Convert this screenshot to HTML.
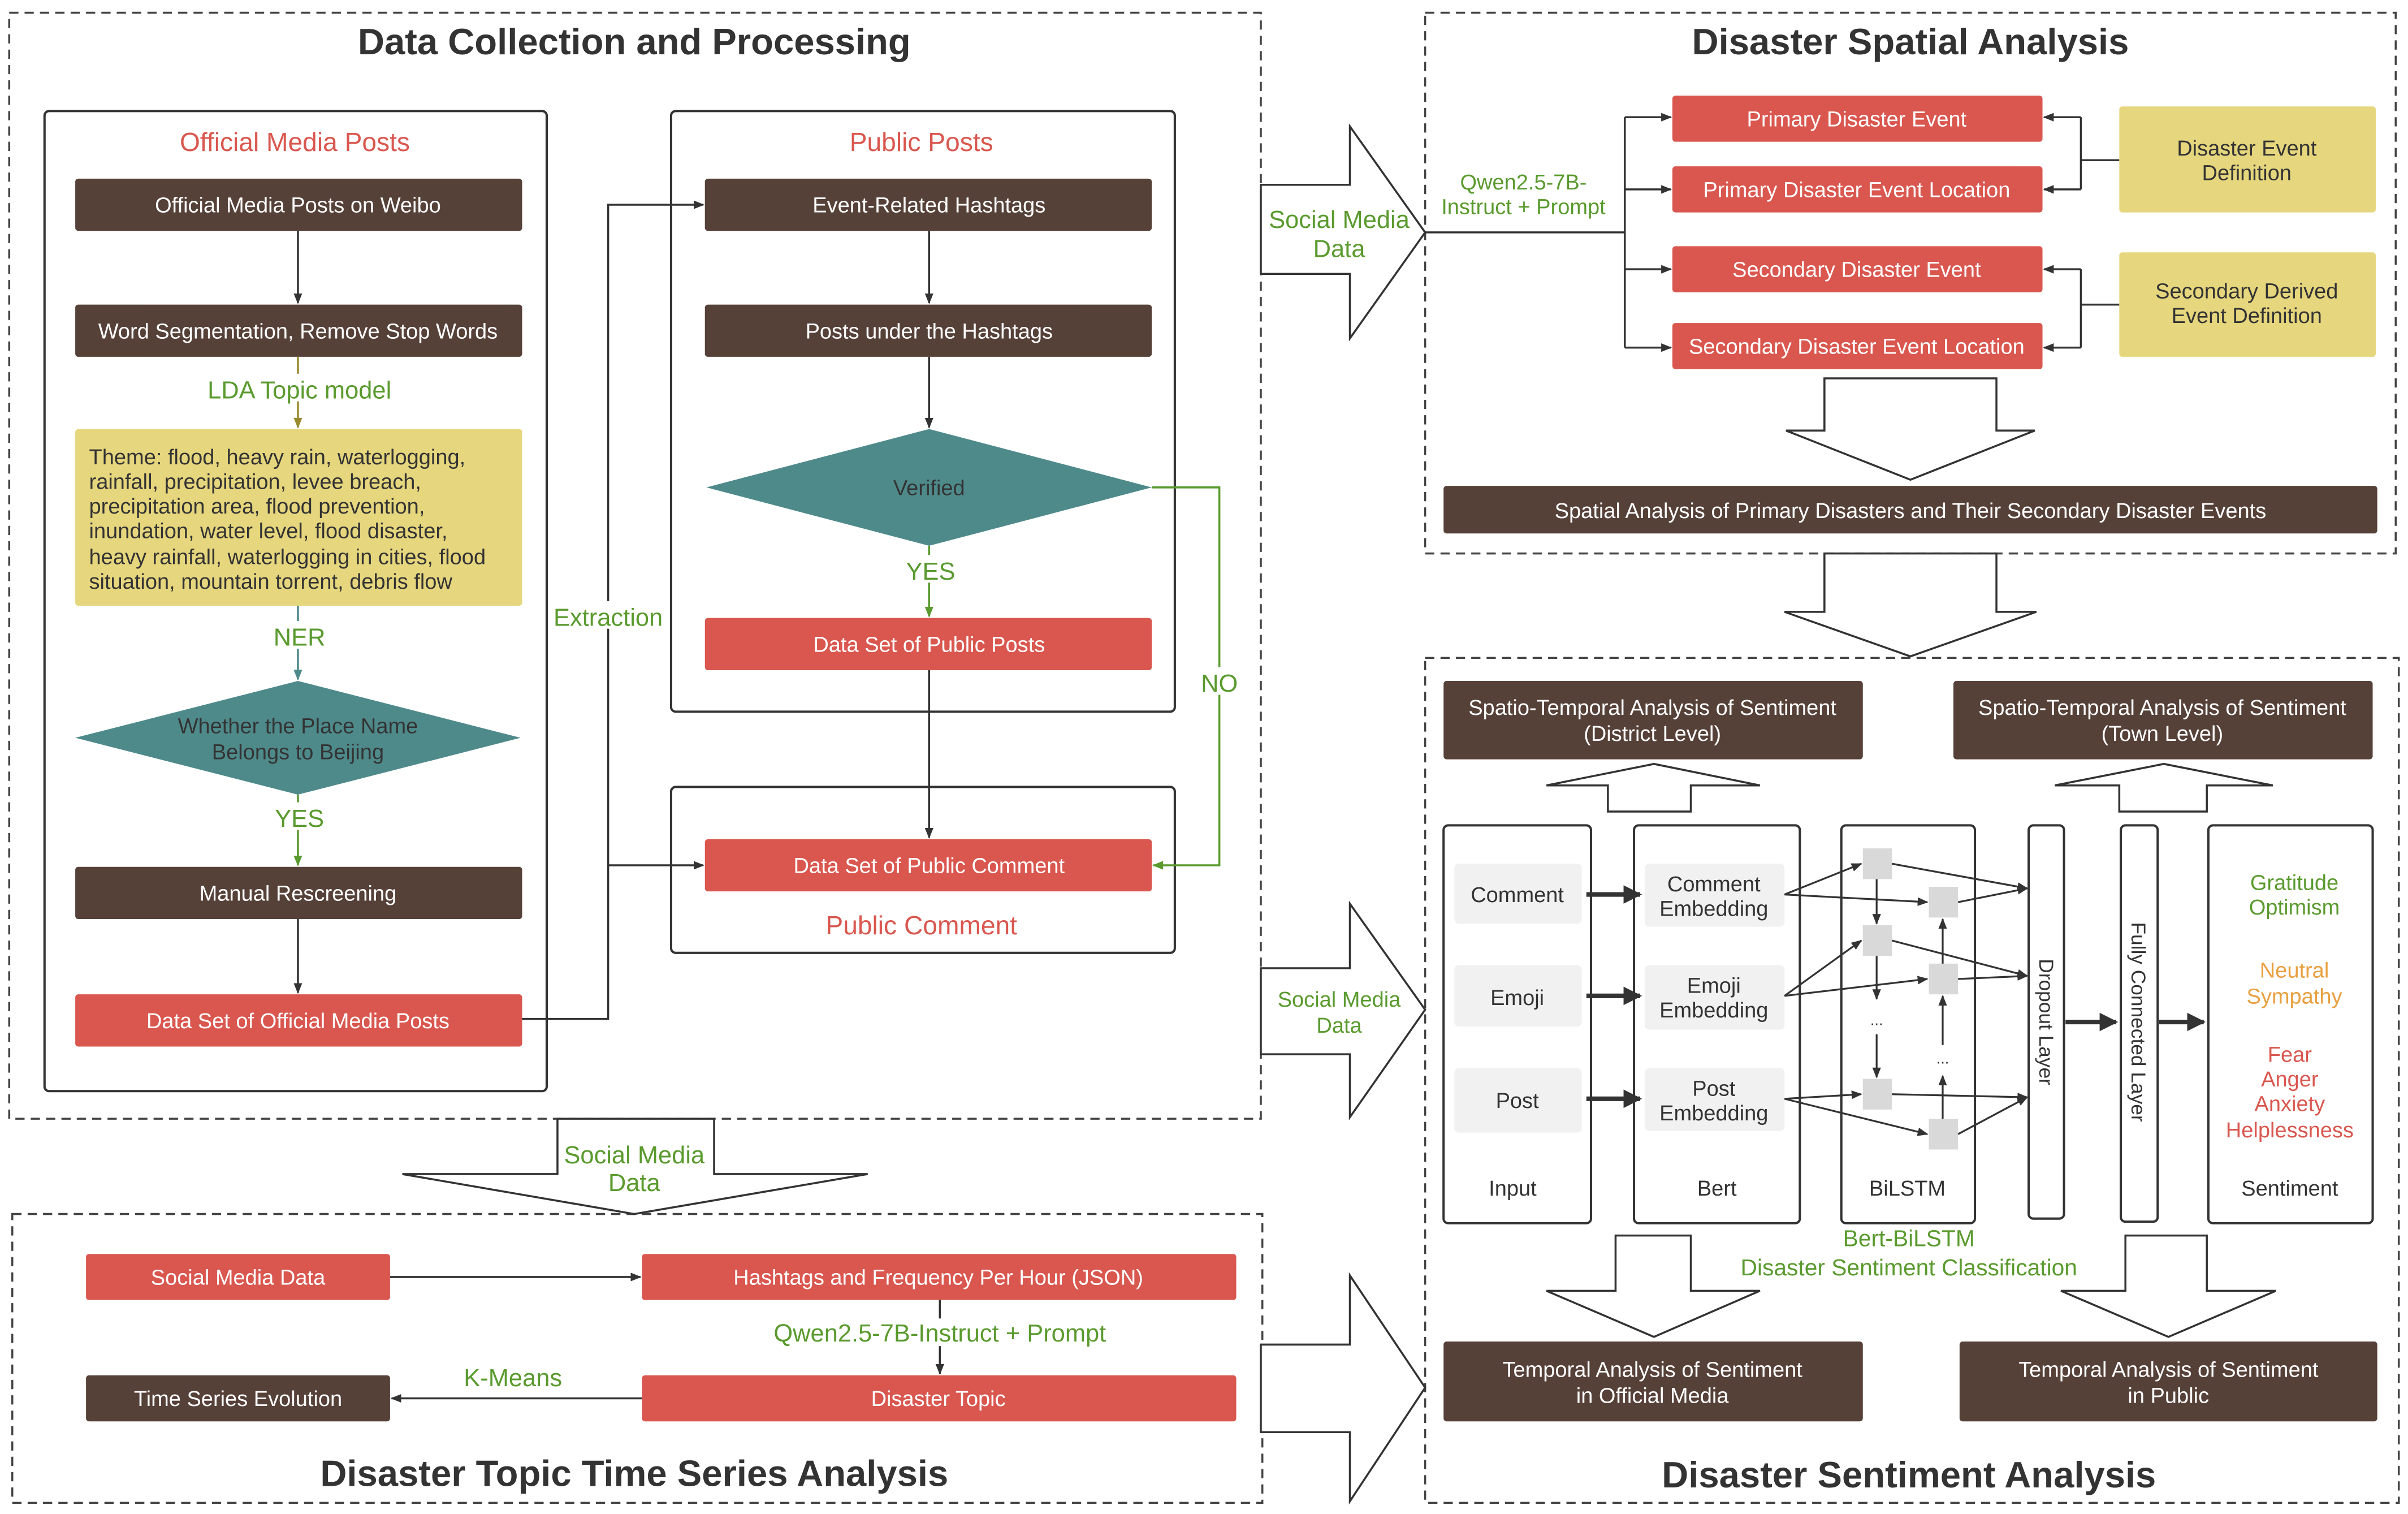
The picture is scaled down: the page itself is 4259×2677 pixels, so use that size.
<!DOCTYPE html>
<html><head><meta charset="utf-8"><style>
html,body{margin:0;padding:0;background:#fff;}
svg{display:block;}
text{font-family:"Liberation Sans",sans-serif;}
</style></head><body>
<svg width="4259" height="2677" viewBox="0 0 1568 985" xmlns="http://www.w3.org/2000/svg">
<defs>
<marker id="a" viewBox="0 0 10 10" refX="9" refY="5" markerWidth="7" markerHeight="7" orient="auto-start-reverse" markerUnits="userSpaceOnUse"><path d="M0,1 L10,5 L0,9 z" fill="#333"/></marker>
<marker id="ag" viewBox="0 0 10 10" refX="9" refY="5" markerWidth="7" markerHeight="7" orient="auto" markerUnits="userSpaceOnUse"><path d="M0,1 L10,5 L0,9 z" fill="#5a9a2e"/></marker>
<marker id="ao" viewBox="0 0 10 10" refX="9" refY="5" markerWidth="7" markerHeight="7" orient="auto" markerUnits="userSpaceOnUse"><path d="M0,1 L10,5 L0,9 z" fill="#9a8a30"/></marker>
<marker id="at" viewBox="0 0 10 10" refX="9" refY="5" markerWidth="7" markerHeight="7" orient="auto" markerUnits="userSpaceOnUse"><path d="M0,1 L10,5 L0,9 z" fill="#4f8a8b"/></marker>
<marker id="ab" viewBox="0 0 10 10" refX="9" refY="5" markerWidth="4" markerHeight="4" orient="auto" markerUnits="strokeWidth"><path d="M0,0 L10,5 L0,10 z" fill="#333"/></marker>
</defs>
<g fill="none" stroke="#444" stroke-width="1.3" stroke-dasharray="6,4">
<rect x="6" y="8" width="815" height="720"/>
<rect x="928" y="8" width="632" height="352"/>
<rect x="928" y="428" width="634" height="550"/>
<rect x="8" y="790" width="814" height="188"/>
</g>
<g font-size="24" font-weight="bold" fill="#333" text-anchor="middle">
<text x="413" y="35">Data Collection and Processing</text>
<text x="1244" y="35">Disaster Spatial Analysis</text>
<text x="413" y="967">Disaster Topic Time Series Analysis</text>
<text x="1243" y="968">Disaster Sentiment Analysis</text>
</g>
<!-- panels -->
<g fill="none" stroke="#333" stroke-width="1.5">
<rect x="29" y="72" width="327" height="638" rx="3"/>
<rect x="437" y="72" width="328" height="391" rx="3"/>
<rect x="437" y="512" width="328" height="108" rx="3"/>
</g>
<g font-size="17" fill="#d9574f" text-anchor="middle">
<text x="192" y="98">Official Media Posts</text>
<text x="600" y="98">Public Posts</text>
<text x="600" y="608">Public Comment</text>
</g>
<!-- boxes -->
<g>
<rect x="49" y="116" width="291" height="34" rx="2" fill="#564139"/>
<rect x="49" y="198" width="291" height="34" rx="2" fill="#564139"/>
<rect x="49" y="279" width="291" height="115" rx="2" fill="#e6d67d"/>
<polygon points="49,480 194,443 339,480 194,517" fill="#4f8a8b"/>
<rect x="49" y="564" width="291" height="34" rx="2" fill="#564139"/>
<rect x="49" y="647" width="291" height="34" rx="2" fill="#d9574f"/>
<rect x="459" y="116" width="291" height="34" rx="2" fill="#564139"/>
<rect x="459" y="198" width="291" height="34" rx="2" fill="#564139"/>
<polygon points="460,317 605,279 750,317 605,355" fill="#4f8a8b"/>
<rect x="459" y="402" width="291" height="34" rx="2" fill="#d9574f"/>
<rect x="459" y="546" width="291" height="34" rx="2" fill="#d9574f"/>
</g>
<g font-size="14" fill="#fff" text-anchor="middle">
<text x="194" y="138">Official Media Posts on Weibo</text>
<text x="194" y="220">Word Segmentation, Remove Stop Words</text>
<text x="194" y="586">Manual Rescreening</text>
<text x="194" y="669">Data Set of Official Media Posts</text>
<text x="605" y="138">Event-Related Hashtags</text>
<text x="605" y="220">Posts under the Hashtags</text>
<text x="605" y="424">Data Set of Public Posts</text>
<text x="605" y="568">Data Set of Public Comment</text>
</g>
<g font-size="14" fill="#333">
<text x="58" y="302">Theme: flood, heavy rain, waterlogging,</text>
<text x="58" y="318">rainfall, precipitation, levee breach,</text>
<text x="58" y="334">precipitation area, flood prevention,</text>
<text x="58" y="350">inundation, water level, flood disaster,</text>
<text x="58" y="367">heavy rainfall, waterlogging in cities, flood</text>
<text x="58" y="383">situation, mountain torrent, debris flow</text>
<text x="194" y="477" text-anchor="middle">Whether the Place Name</text>
<text x="194" y="494" text-anchor="middle">Belongs to Beijing</text>
<text x="605" y="322" text-anchor="middle">Verified</text>
</g>
<!-- connectors left -->
<g stroke="#333" stroke-width="1.3" fill="none">
<line x1="194" y1="150" x2="194" y2="197" marker-end="url(#a)"/>
<line x1="194" y1="598" x2="194" y2="646" marker-end="url(#a)"/>
<line x1="605" y1="150" x2="605" y2="197" marker-end="url(#a)"/>
<line x1="605" y1="232" x2="605" y2="278" marker-end="url(#a)"/>
<line x1="605" y1="436" x2="605" y2="545" marker-end="url(#a)"/>
<polyline points="340,663 396,663 396,133 458,133" marker-end="url(#a)"/>
<polyline points="396,563 458,563" marker-end="url(#a)"/>
</g>
<line x1="194" y1="232" x2="194" y2="278" stroke="#9a8a30" stroke-width="1.3" marker-end="url(#ao)"/>
<line x1="194" y1="394" x2="194" y2="442" stroke="#4f8a8b" stroke-width="1.3" marker-end="url(#at)"/>
<line x1="194" y1="517" x2="194" y2="563" stroke="#5a9a2e" stroke-width="1.3" marker-end="url(#ag)"/>
<line x1="605" y1="355" x2="605" y2="401" stroke="#5a9a2e" stroke-width="1.3" marker-end="url(#ag)"/>
<polyline points="750,317 794,317 794,563 751,563" fill="none" stroke="#5a9a2e" stroke-width="1.3" marker-end="url(#ag)"/>
<g font-size="16" fill="#5a9a2e" text-anchor="middle">
<rect x="130" y="243" width="130" height="18" fill="#fff"/>
<text x="195" y="259">LDA Topic model</text>
<rect x="178" y="404" width="34" height="18" fill="#fff"/>
<text x="195" y="420">NER</text>
<rect x="178" y="522" width="34" height="18" fill="#fff"/>
<text x="195" y="538">YES</text>
<rect x="589" y="361" width="34" height="18" fill="#fff"/>
<text x="606" y="377">YES</text>
<rect x="358" y="391" width="76" height="18" fill="#fff"/>
<text x="396" y="407">Extraction</text>
<rect x="780" y="434" width="28" height="18" fill="#fff"/>
<text x="794" y="450">NO</text>
</g>
<!-- big hollow arrows -->
<g fill="#fff" stroke="#333" stroke-width="1.3">
<polygon points="821,120 879,120 879,82 928,151 879,220 879,178 821,178"/>
<polygon points="821,630 879,630 879,588 928,657 879,727 879,686 821,686"/>
<polygon points="821,875 879,875 879,830 928,903 879,977 879,932 821,932"/>
<polygon points="363,728 465,728 465,764 565,764 413,790 262,764 363,764"/>
<polygon points="1188,360 1300,360 1300,398 1326,398 1244,427 1162,398 1188,398"/>
<polygon points="1188,246 1300,246 1300,280 1325,280 1244,312 1163,280 1188,280"/>
<polygon points="1047,528 1101,528 1101,511 1146,511 1077,497 1007,511 1047,511"/>
<polygon points="1380,528 1437,528 1437,511 1480,511 1409,497 1338,511 1380,511"/>
<polygon points="1052,804 1101,804 1101,840 1146,840 1077,870 1007,840 1052,840"/>
<polygon points="1384,804 1437,804 1437,840 1482,840 1412,870 1342,840 1384,840"/>
</g>
<g fill="#5a9a2e" text-anchor="middle">
<text x="872" y="148" font-size="16">Social Media</text>
<text x="872" y="167" font-size="16">Data</text>
<text x="872" y="655" font-size="14">Social Media</text>
<text x="872" y="672" font-size="14">Data</text>
<text x="413" y="757" font-size="16">Social Media</text>
<text x="413" y="775" font-size="16">Data</text>
<text x="992" y="123" font-size="14">Qwen2.5-7B-</text>
<text x="992" y="139" font-size="14">Instruct + Prompt</text>
</g>
<!-- DSA -->
<g stroke="#333" stroke-width="1.3" fill="none">
<line x1="928" y1="151" x2="1058" y2="151"/>
<line x1="1058" y1="76" x2="1058" y2="226"/>
<line x1="1058" y1="76" x2="1088" y2="76" marker-end="url(#a)"/>
<line x1="1058" y1="123" x2="1088" y2="123" marker-end="url(#a)"/>
<line x1="1058" y1="175" x2="1088" y2="175" marker-end="url(#a)"/>
<line x1="1058" y1="226" x2="1088" y2="226" marker-end="url(#a)"/>
<line x1="1380" y1="104" x2="1355" y2="104"/>
<line x1="1355" y1="76" x2="1355" y2="123"/>
<line x1="1355" y1="76" x2="1331" y2="76" marker-end="url(#a)"/>
<line x1="1355" y1="123" x2="1331" y2="123" marker-end="url(#a)"/>
<line x1="1380" y1="198" x2="1355" y2="198"/>
<line x1="1355" y1="175" x2="1355" y2="226"/>
<line x1="1355" y1="175" x2="1331" y2="175" marker-end="url(#a)"/>
<line x1="1355" y1="226" x2="1331" y2="226" marker-end="url(#a)"/>
</g>
<g fill="#d9574f">
<rect x="1089" y="62" width="241" height="30" rx="2"/>
<rect x="1089" y="108" width="241" height="30" rx="2"/>
<rect x="1089" y="160" width="241" height="30" rx="2"/>
<rect x="1089" y="210" width="241" height="30" rx="2"/>
</g>
<rect x="1380" y="69" width="167" height="69" rx="2" fill="#e6d67d"/>
<rect x="1380" y="164" width="167" height="68" rx="2" fill="#e6d67d"/>
<rect x="940" y="316" width="608" height="31" rx="2" fill="#564139"/>
<g font-size="14" fill="#fff" text-anchor="middle">
<text x="1209" y="82">Primary Disaster Event</text>
<text x="1209" y="128">Primary Disaster Event Location</text>
<text x="1209" y="180">Secondary Disaster Event</text>
<text x="1209" y="230">Secondary Disaster Event Location</text>
<text x="1244" y="337">Spatial Analysis of Primary Disasters and Their Secondary Disaster Events</text>
</g>
<g font-size="14" fill="#333" text-anchor="middle">
<text x="1463" y="101">Disaster Event</text>
<text x="1463" y="117">Definition</text>
<text x="1463" y="194">Secondary Derived</text>
<text x="1463" y="210">Event Definition</text>
</g>
<!-- Sentiment -->
<g fill="#564139">
<rect x="940" y="443" width="273" height="51" rx="2"/>
<rect x="1272" y="443" width="273" height="51" rx="2"/>
<rect x="940" y="873" width="273" height="52" rx="2"/>
<rect x="1276" y="873" width="272" height="52" rx="2"/>
</g>
<g font-size="14" fill="#fff" text-anchor="middle">
<text x="1076" y="465">Spatio-Temporal Analysis of Sentiment</text>
<text x="1076" y="482">(District Level)</text>
<text x="1408" y="465">Spatio-Temporal Analysis of Sentiment</text>
<text x="1408" y="482">(Town Level)</text>
<text x="1076" y="896">Temporal Analysis of Sentiment</text>
<text x="1076" y="913">in Official Media</text>
<text x="1412" y="896">Temporal Analysis of Sentiment</text>
<text x="1412" y="913">in Public</text>
</g>
<g fill="none" stroke="#333" stroke-width="1.5">
<rect x="940" y="537" width="96" height="259" rx="3"/>
<rect x="1064" y="537" width="108" height="259" rx="3"/>
<rect x="1199" y="537" width="87" height="259" rx="3"/>
<rect x="1321" y="537" width="23" height="256" rx="3"/>
<rect x="1381" y="537" width="24" height="258" rx="3"/>
<rect x="1438" y="537" width="107" height="259" rx="3"/>
</g>
<g fill="#f1f1f1">
<rect x="947" y="562" width="83" height="39" rx="3"/>
<rect x="947" y="628" width="83" height="40" rx="3"/>
<rect x="947" y="695" width="83" height="42" rx="3"/>
<rect x="1071" y="562" width="91" height="41" rx="3"/>
<rect x="1071" y="628" width="91" height="42" rx="3"/>
<rect x="1071" y="695" width="91" height="41" rx="3"/>
</g>
<g fill="#d9d9d9">
<rect x="1213" y="552" width="19" height="20"/>
<rect x="1256" y="577" width="19" height="20"/>
<rect x="1213" y="602" width="19" height="20"/>
<rect x="1256" y="627" width="19" height="20"/>
<rect x="1213" y="702" width="19" height="20"/>
<rect x="1256" y="728" width="19" height="20"/>
</g>
<g font-size="14" fill="#333" text-anchor="middle">
<text x="988" y="587">Comment</text>
<text x="988" y="654">Emoji</text>
<text x="988" y="721">Post</text>
<text x="1116" y="580">Comment</text>
<text x="1116" y="596">Embedding</text>
<text x="1116" y="646">Emoji</text>
<text x="1116" y="662">Embedding</text>
<text x="1116" y="713">Post</text>
<text x="1116" y="729">Embedding</text>
<text x="985" y="778">Input</text>
<text x="1118" y="778">Bert</text>
<text x="1242" y="778">BiLSTM</text>
<text x="1491" y="778">Sentiment</text>
<text x="1222" y="667" font-size="10">...</text>
<text x="1265" y="692" font-size="10">...</text>
<text transform="translate(1328,665) rotate(90)" font-size="13">Dropout Layer</text>
<text transform="translate(1388,665) rotate(90)" font-size="13">Fully Connected Layer</text>
</g>
<g stroke="#333" stroke-width="3" fill="none">
<line x1="1033" y1="582" x2="1068" y2="582" marker-end="url(#ab)"/>
<line x1="1033" y1="648" x2="1068" y2="648" marker-end="url(#ab)"/>
<line x1="1033" y1="715" x2="1068" y2="715" marker-end="url(#ab)"/>
<line x1="1345" y1="665" x2="1378" y2="665" marker-end="url(#ab)"/>
<line x1="1406" y1="665" x2="1435" y2="665" marker-end="url(#ab)"/>
</g>
<g stroke="#333" stroke-width="1.2" fill="none">
<line x1="1162" y1="582" x2="1212" y2="562" marker-end="url(#a)"/>
<line x1="1162" y1="582" x2="1255" y2="587" marker-end="url(#a)"/>
<line x1="1162" y1="648" x2="1212" y2="612" marker-end="url(#a)"/>
<line x1="1162" y1="648" x2="1255" y2="637" marker-end="url(#a)"/>
<line x1="1162" y1="715" x2="1212" y2="712" marker-end="url(#a)"/>
<line x1="1162" y1="715" x2="1255" y2="738" marker-end="url(#a)"/>
<line x1="1232" y1="562" x2="1320" y2="578" marker-end="url(#a)"/>
<line x1="1275" y1="587" x2="1320" y2="578" marker-end="url(#a)"/>
<line x1="1232" y1="612" x2="1320" y2="635" marker-end="url(#a)"/>
<line x1="1275" y1="637" x2="1320" y2="635" marker-end="url(#a)"/>
<line x1="1232" y1="712" x2="1320" y2="714" marker-end="url(#a)"/>
<line x1="1275" y1="738" x2="1320" y2="714" marker-end="url(#a)"/>
<line x1="1222" y1="572" x2="1222" y2="601" marker-end="url(#a)"/>
<line x1="1222" y1="622" x2="1222" y2="650" marker-end="url(#a)"/>
<line x1="1222" y1="673" x2="1222" y2="701" marker-end="url(#a)"/>
<line x1="1265" y1="728" x2="1265" y2="700" marker-end="url(#a)"/>
<line x1="1265" y1="680" x2="1265" y2="648" marker-end="url(#a)"/>
<line x1="1265" y1="627" x2="1265" y2="598" marker-end="url(#a)"/>
</g>
<g font-size="14" text-anchor="middle">
<text x="1494" y="579" fill="#5a9a2e">Gratitude</text>
<text x="1494" y="595" fill="#5a9a2e">Optimism</text>
<text x="1494" y="636" fill="#e8a040">Neutral</text>
<text x="1494" y="653" fill="#e8a040">Sympathy</text>
<text x="1491" y="691" fill="#d9574f">Fear</text>
<text x="1491" y="707" fill="#d9574f">Anger</text>
<text x="1491" y="723" fill="#d9574f">Anxiety</text>
<text x="1491" y="740" fill="#d9574f">Helplessness</text>
</g>
<g font-size="15" fill="#5a9a2e" text-anchor="middle">
<text x="1243" y="811">Bert-BiLSTM</text>
<text x="1243" y="830">Disaster Sentiment Classification</text>
</g>
<!-- DTS -->
<g fill="#d9574f">
<rect x="56" y="816" width="198" height="30" rx="2"/>
<rect x="418" y="816" width="387" height="30" rx="2"/>
<rect x="418" y="895" width="387" height="30" rx="2"/>
</g>
<rect x="56" y="895" width="198" height="30" rx="2" fill="#564139"/>
<g font-size="14" fill="#fff" text-anchor="middle">
<text x="155" y="836">Social Media Data</text>
<text x="611" y="836">Hashtags and Frequency Per Hour (JSON)</text>
<text x="611" y="915">Disaster Topic</text>
<text x="155" y="915">Time Series Evolution</text>
</g>
<g stroke="#333" stroke-width="1.3" fill="none">
<line x1="254" y1="831" x2="417" y2="831" marker-end="url(#a)"/>
<line x1="612" y1="846" x2="612" y2="894" marker-end="url(#a)"/>
<line x1="418" y1="910" x2="255" y2="910" marker-end="url(#a)"/>
</g>
<g font-size="16" fill="#5a9a2e" text-anchor="middle">
<rect x="498" y="858" width="228" height="18" fill="#fff"/>
<text x="612" y="873">Qwen2.5-7B-Instruct + Prompt</text>
<text x="334" y="902">K-Means</text>
</g>
</svg>
</body></html>
